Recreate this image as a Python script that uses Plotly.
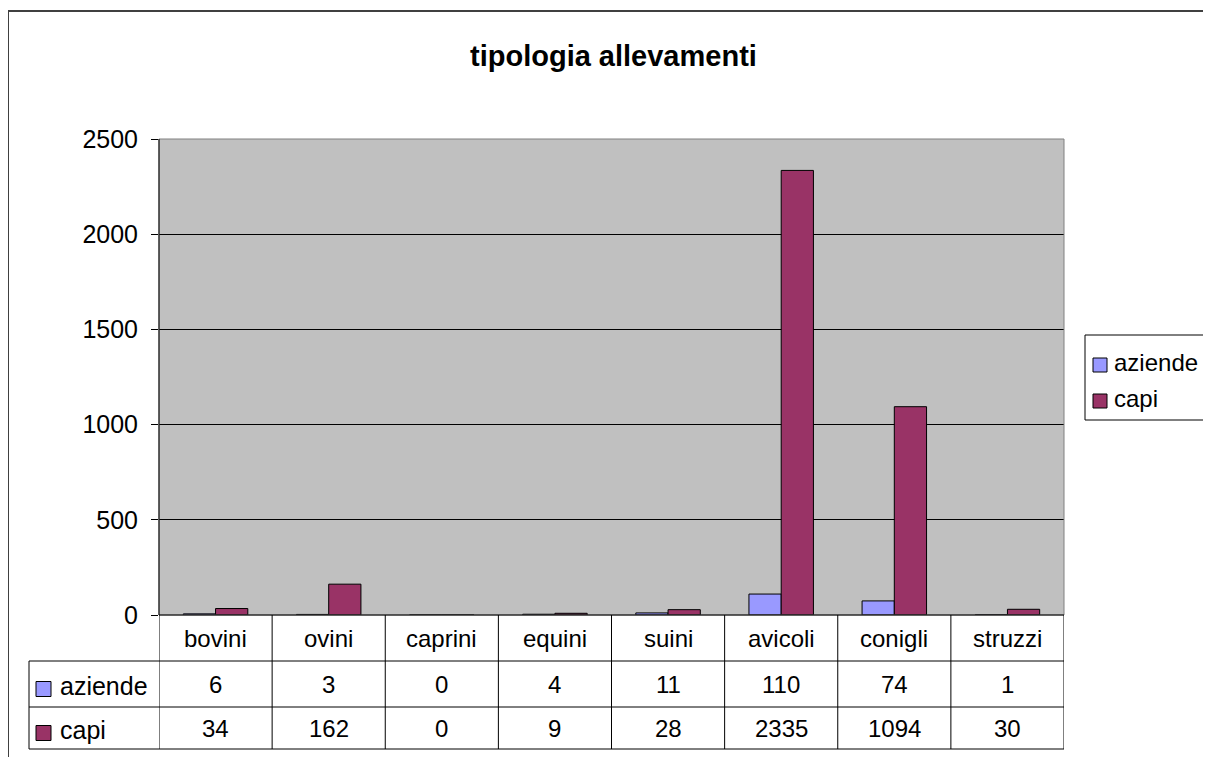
import plotly.graph_objects as go

# the page body keeps an 8px margin, so the figure is drawn 8px in and shrunk to fit
OFF = 8
W, H = 1211 - 2 * OFF, 765 - 2 * OFF

categories = ["bovini", "ovini", "caprini", "equini", "suini", "avicoli", "conigli", "struzzi"]
aziende = [6, 3, 0, 4, 11, 110, 74, 1]
capi = [34, 162, 0, 9, 28, 2335, 1094, 30]
series_names = ["aziende", "capi"]
series_colors = ["#9999FF", "#993366"]
y_ticks = [0, 500, 1000, 1500, 2000, 2500]
title = "tipologia allevamenti"

FONT = "Liberation Sans, Arial, sans-serif"


def px(x):
    # page pixel -> paper x
    return (x - OFF) / W


def py(y):
    # page pixel -> paper y
    return 1 - (y - OFF) / H


# plot area in page pixels
PL, PR, PT, PB = 159, 1064, 139, 615
ROW1, ROW2, ROW3 = 661, 707, 749
TL = 29

fig = go.Figure()
for name, vals, col in zip(series_names, [aziende, capi], series_colors):
    fig.add_trace(go.Bar(
        x=categories, y=vals, name=name,
        marker=dict(color=col, line=dict(color="black", width=1)),
        showlegend=False,
    ))

shapes = []
annotations = []

# outer chart border
shapes.append(dict(type="rect", xref="paper", yref="paper",
                   x0=px(8), x1=px(1240), y0=py(11), y1=py(800),
                   line=dict(color="#404040", width=2)))
# plot area border (gray)
shapes.append(dict(type="rect", xref="paper", yref="paper",
                   x0=px(PL), x1=px(PR), y0=py(PT), y1=py(PB),
                   line=dict(color="#808080", width=1), layer="above"))
# y axis line
shapes.append(dict(type="line", xref="paper", yref="paper",
                   x0=px(PL), x1=px(PL), y0=py(PT), y1=py(PB),
                   line=dict(color="black", width=1), layer="above"))

# data table
line = dict(color="black", width=1)
shapes.append(dict(type="line", xref="paper", yref="paper", x0=px(PL), x1=px(PR), y0=py(PB), y1=py(PB), line=line))
for yy in [ROW1, ROW2, ROW3]:
    shapes.append(dict(type="line", xref="paper", yref="paper", x0=px(TL), x1=px(PR), y0=py(yy), y1=py(yy), line=line))
shapes.append(dict(type="line", xref="paper", yref="paper", x0=px(TL), x1=px(TL), y0=py(ROW1), y1=py(ROW3), line=line))
for i in range(len(categories) + 1):
    shapes.append(dict(type="line", xref="x", yref="paper", x0=i - 0.5, x1=i - 0.5,
                       y0=py(PB), y1=py(ROW3), line=line))

for cat, a, c in zip(categories, aziende, capi):
    for txt, yc in [(cat, (PB + ROW1) / 2), (str(a), (ROW1 + ROW2) / 2), (str(c), (ROW2 + ROW3) / 2)]:
        annotations.append(dict(x=cat, xref="x", y=py(yc), yref="paper", text=txt,
                                xanchor="center", yanchor="middle", showarrow=False,
                                font=dict(size=24, color="black", family=FONT)))

# table row keys
for name, col, (r0, r1) in zip(series_names, series_colors, [(ROW1, ROW2), (ROW2, ROW3)]):
    yc = (r0 + r1) / 2 + 5
    shapes.append(dict(type="rect", xref="paper", yref="paper",
                       x0=px(36), x1=px(51), y0=py(yc - 7.5), y1=py(yc + 7.5),
                       fillcolor=col, line=dict(color="black", width=1)))
    annotations.append(dict(x=px(58), xref="paper", y=py((r0 + r1) / 2 + 2), yref="paper", text=name,
                            showarrow=False, xanchor="left", yanchor="middle",
                            font=dict(size=25, color="black", family=FONT)))

# legend box
shapes.append(dict(type="rect", xref="paper", yref="paper",
                   x0=px(1085), x1=px(1240), y0=py(335), y1=py(420),
                   line=dict(color="black", width=1)))
for name, col, yc in zip(series_names, series_colors, [362, 398]):
    shapes.append(dict(type="rect", xref="paper", yref="paper",
                       x0=px(1093), x1=px(1107), y0=py(yc - 7 + 3), y1=py(yc + 7 + 3),
                       fillcolor=col, line=dict(color="black", width=1)))
    annotations.append(dict(x=px(1112), xref="paper", y=py(yc), yref="paper", text=name,
                            showarrow=False, xanchor="left", yanchor="middle",
                            font=dict(size=24, color="black", family=FONT)))

# title
annotations.append(dict(x=px(614), xref="paper", y=py(56), yref="paper", text="<b>" + title + "</b>",
                        showarrow=False, xanchor="center", yanchor="middle",
                        font=dict(size=29, color="black", family=FONT)))

fig.update_layout(
    width=W, height=H,
    margin=dict(l=0, r=0, t=0, b=0, autoexpand=False),
    paper_bgcolor="white",
    plot_bgcolor="#C0C0C0",
    barmode="group",
    bargap=0.43,
    bargroupgap=0,
    showlegend=False,
    font=dict(family=FONT, color="black"),
    xaxis=dict(domain=[px(PL), px(PR)], showticklabels=False, showgrid=False,
               zeroline=False, showline=False, ticks="",
               range=[-0.5, len(categories) - 0.5]),
    yaxis=dict(domain=[py(PB), py(PT)], range=[0, 2500], tickvals=y_ticks,
               showgrid=True, gridcolor="black", gridwidth=1, zeroline=False,
               showline=False, ticks="outside", ticklen=7, tickcolor="black",
               tickfont=dict(size=25, color="black", family=FONT),
               ticklabelstandoff=8),
    shapes=shapes,
    annotations=annotations,
)

fig.write_html("out.html")
